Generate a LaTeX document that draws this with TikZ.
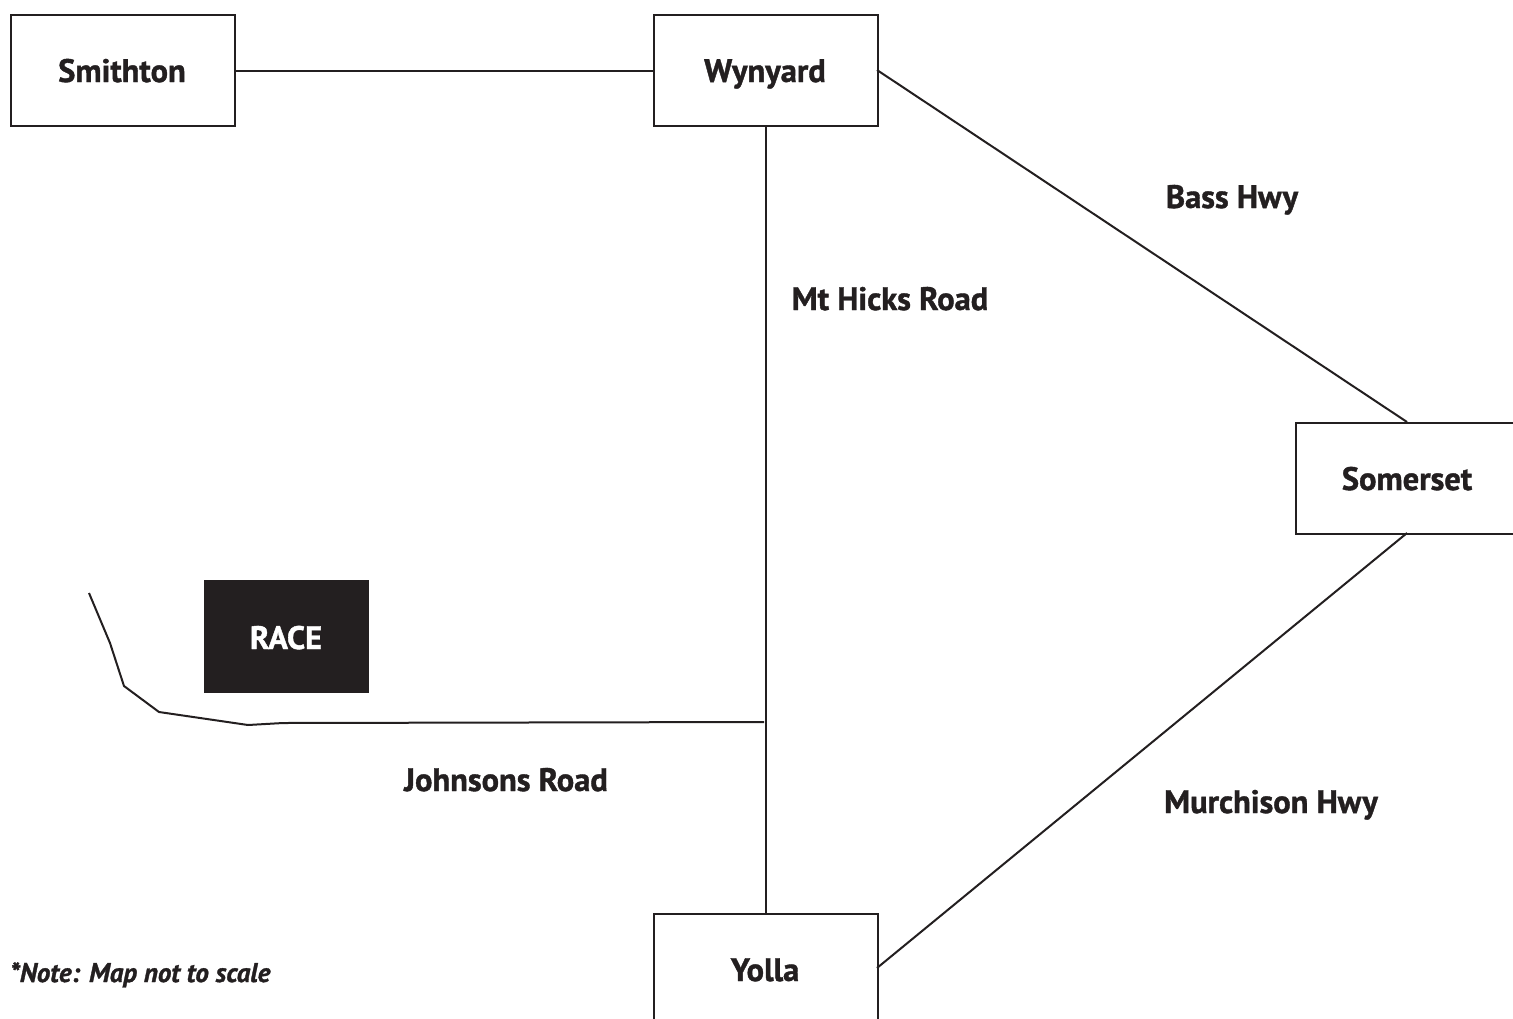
\documentclass[tikz,border=0pt]{standalone}
\usepackage{fontspec}
\setmainfont{PT Sans}[BoldFeatures={FakeBold=1.2},BoldItalicFeatures={FakeBold=1.2}]
\definecolor{ink}{HTML}{231F20}
\begin{document}
\begin{tikzpicture}[x=1pt,y=-1pt,
  town/.style={draw=ink,line width=2pt,minimum width=224pt,minimum height=111pt,inner sep=0pt,anchor=north west},
  road/.style={draw=ink,line width=2pt},
  lbl/.style={text=ink,font=\fontsize{32.5}{36}\selectfont\bfseries,inner sep=0pt,anchor=base}]
\useasboundingbox (0,0) rectangle (1513,1018);
\begin{scope}
\clip (0,0) rectangle (1513,1018);
\node[town] (smithton) at (10,14) {};
\node[town] (wynyard) at (653,14) {};
\node[town] (somerset) at (1295,422) {};
\node[town] (yolla) at (653,913) {};
\node[fill=ink,minimum width=165pt,minimum height=113pt,inner sep=0pt,anchor=north west] (race) at (204,580) {};
\end{scope}
\node[lbl] at (122,82) {Smithton};
\node[lbl] at (765,82) {Wynyard};
\node[lbl] at (1407,490) {Somerset};
\node[lbl] at (765,981) {Yolla};
\node[lbl,text=white] at (286,649) {RACE};
\coordinate (j) at (764,722);
\draw[road] (smithton.east) -- (wynyard.west);
\draw[road] (wynyard.south) -- (yolla.north);
\draw[road] (877,70) coordinate (wr) -- (1407,422) coordinate (st);
\draw[road] (877,968) coordinate (yr) -- (1407,533) coordinate (sb);
\draw[road,line join=round] (j) -- (283,723) -- (248,725) -- (159,712) -- (124,686) -- (110,643) -- (89,593);
\node[lbl] at (1232,208) {Bass Hwy};
\node[lbl] at (890,310) {Mt Hicks Road};
\node[lbl] at (506,791) {Johnsons Road};
\node[lbl] at (1271,813) {Murchison Hwy};
\node[lbl,anchor=base west,font=\fontsize{27}{30}\selectfont\bfseries\itshape] at (10,982) {*Note: Map not to scale};
\end{tikzpicture}
\end{document}
